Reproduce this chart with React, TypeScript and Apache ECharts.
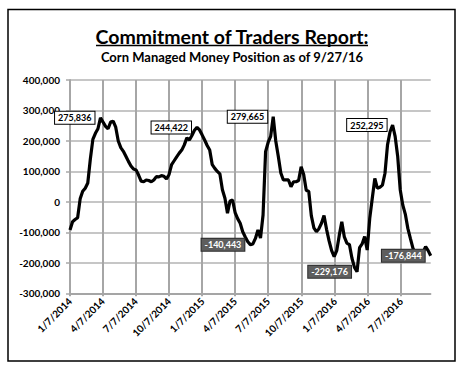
import React, { useEffect, useRef } from "react";
import * as echarts from "echarts";

// Weekly managed-money net position, first week 1/7/2014, last 9/27/2016
const startDate = [2014, 0, 7];
const positions = [
  -92000, -65000, -58000, -52000, 10000, 35000, 45000, 62000, 140000, 205000,
  225000, 240000, 275836, 262000, 248000, 240000, 262000, 265000, 245000, 200000,
  178000, 166000, 150000, 133000, 118000, 108000, 105000, 88000, 68000, 66000,
  72000, 70000, 66000, 72000, 83000, 82000, 86000, 84000, 75000, 90000,
  122000, 135000, 148000, 160000, 170000, 187000, 210000, 203000, 218000, 235000,
  244422, 236000, 220000, 203000, 185000, 170000, 122000, 110000, 100000, 92000,
  40000, 12000, -37000, 3000, 6000, -35000, -55000, -70000, -98000, -115000,
  -131000, -140443, -138000, -120000, -92000, -119000, -43000, 165000, 195000, 215000,
  279665, 200000, 150000, 95000, 72000, 72000, 72000, 50000, 66000, 66000,
  70000, 115000, 90000, 38000, 34000, -45000, -85000, -98000, -88000, -70000,
  -45000, -90000, -128000, -160000, -180000, -160000, -110000, -65000, -115000, -135000,
  -140000, -185000, -215000, -229176, -150000, -138000, -114000, -158000, -54000, 12000,
  77000, 45000, 48000, 55000, 94000, 187000, 230000, 252295, 215000, 150000,
  40000, -10000, -40000, -87000, -120000, -152000, -170000, -185000, -180000, -165000,
  -147000, -160000, -176844,
];
// indices of the weeks that carry a data label
const labelledWeeks = [12, 50, 71, 80, 113, 127, 142];
// x-axis tick dates (y, m, d)
const tickDates = [
  [2014, 0, 7], [2014, 3, 7], [2014, 6, 7], [2014, 9, 7],
  [2015, 0, 7], [2015, 3, 7], [2015, 6, 7], [2015, 9, 7],
  [2016, 0, 7], [2016, 3, 7], [2016, 6, 7],
];
const yTicks = { min: -300000, max: 400000, interval: 100000 };

const FONT = "Lato";
const DAY = 86400000;
const t0 = Date.UTC(startDate[0], startDate[1], startDate[2]);

function dayOf(y: number, m: number, d: number) {
  return Math.round((Date.UTC(y, m, d) - t0) / DAY);
}
function fmtDay(v: number) {
  const d = new Date(t0 + v * DAY);
  return `${d.getUTCMonth() + 1}/${d.getUTCDate()}/${d.getUTCFullYear()}`;
}
function fmtNum(v: number) {
  return Math.round(v).toLocaleString("en-US");
}

export default function App() {
  const ref = useRef<HTMLDivElement>(null);
  useEffect(() => {
    if (!ref.current) return;
    const chart = echarts.init(ref.current, null, { renderer: "svg" });
    const ticks = tickDates.map((t) => dayOf(t[0], t[1], t[2]));
    const lastDay = (positions.length - 1) * 7;
    const data = positions.map((v, i) => {
      const x = i * 7;
      if (!labelledWeeks.includes(i)) return [x, v];
      const neg = v < 0;
      return {
        value: [x, v],
        label: {
          show: true,
          position: "left",
          distance: 6,
          formatter: () => fmtNum(v),
          fontFamily: FONT,
          fontWeight: "bold",
          fontSize: 9,
          color: neg ? "#ffffff" : "#000000",
          backgroundColor: neg ? "#5e5e5e" : "#ffffff",
          borderColor: neg ? "#2a2a2a" : "#000000",
          borderWidth: 1,
          padding: [2, 3, 1, 3],
        },
      };
    });
    const baseGraphic: any[] = [
      {
        id: "frame",
        type: "rect",
        shape: { x: 8, y: 9.5, width: 447, height: 351.5 },
        style: { fill: "none", stroke: "#000", lineWidth: 1.5 },
        silent: true,
      },
      {
        id: "underline",
        type: "line",
        shape: { x1: 96, y1: 45.5, x2: 368, y2: 45.5 },
        style: { stroke: "#000", lineWidth: 1.5 },
        silent: true,
      },
    ];
    chart.setOption({
      animation: false,
      backgroundColor: "#ffffff",
      title: [
        {
          text: "Commitment of Traders Report:",
          left: "center",
          top: 26,
          padding: 0,
          textStyle: { fontFamily: FONT, fontWeight: "bold", fontSize: 19.5, color: "#000" },
        },
        {
          text: "Corn Managed Money Position as of 9/27/16",
          left: "center",
          top: 50,
          padding: 0,
          textStyle: { fontFamily: FONT, fontWeight: "bold", fontSize: 13, color: "#000" },
        },
      ],
      graphic: baseGraphic,
      grid: { left: 70, right: 33.3, top: 80, bottom: 75.7 },
      xAxis: {
        type: "value",
        min: 0,
        max: lastDay,
        splitLine: { show: false },
        axisLine: { show: true, onZero: false, lineStyle: { color: "#9a9a9a", width: 1.5 } },
        axisTick: { show: false },
        axisLabel: {
          customValues: ticks,
          formatter: (v: number) => fmtDay(v),
          rotate: 45,
          margin: 6,
          fontFamily: FONT,
          fontWeight: "bold",
          fontSize: 10,
          color: "#000",
          hideOverlap: false,
        },
      },
      yAxis: {
        type: "value",
        min: yTicks.min,
        max: yTicks.max,
        interval: yTicks.interval,
        axisLine: { show: true, lineStyle: { color: "#8a8a8a", width: 1.5 } },
        axisTick: { show: true, length: 4, lineStyle: { color: "#a8a8a8", width: 1.5 } },
        splitLine: { show: true, lineStyle: { color: "#b3b3b3", width: 1.5 } },
        axisLabel: {
          formatter: (v: number) => fmtNum(v),
          margin: 10,
          fontFamily: FONT,
          fontWeight: "bold",
          fontSize: 10,
          color: "#000",
        },
      },
      series: [
        {
          type: "line",
          z: 3,
          data,
          showSymbol: true,
          showAllSymbol: true,
          symbol: "circle",
          symbolSize: 0,
          lineStyle: { color: "#000", width: 3.2 },
          itemStyle: { color: "#000" },
          emphasis: { disabled: true },
        },
      ],
    });
    // vertical gridlines at the tick dates, positioned through the chart's own scales
    const gridLines = ticks.map((t, i) => {
      const top = chart.convertToPixel({ xAxisIndex: 0, yAxisIndex: 0 }, [t, yTicks.max]) as number[];
      const bottom = chart.convertToPixel({ xAxisIndex: 0, yAxisIndex: 0 }, [t, yTicks.min]) as number[];
      const x = Math.round(top[0]);
      return {
        id: `vgrid${i}`,
        type: "line",
        z: 1,
        silent: true,
        shape: { x1: x, y1: top[1], x2: x, y2: bottom[1] + 3 },
        style: { stroke: "#a6a6a6", lineWidth: 2 },
      };
    });
    chart.setOption({ graphic: [...baseGraphic, ...gridLines] });
    return () => chart.dispose();
  }, []);
  return (
    <div
      ref={ref}
      style={{ position: "fixed", left: 0, top: 0, width: 464, height: 369 }}
    />
  );
}
